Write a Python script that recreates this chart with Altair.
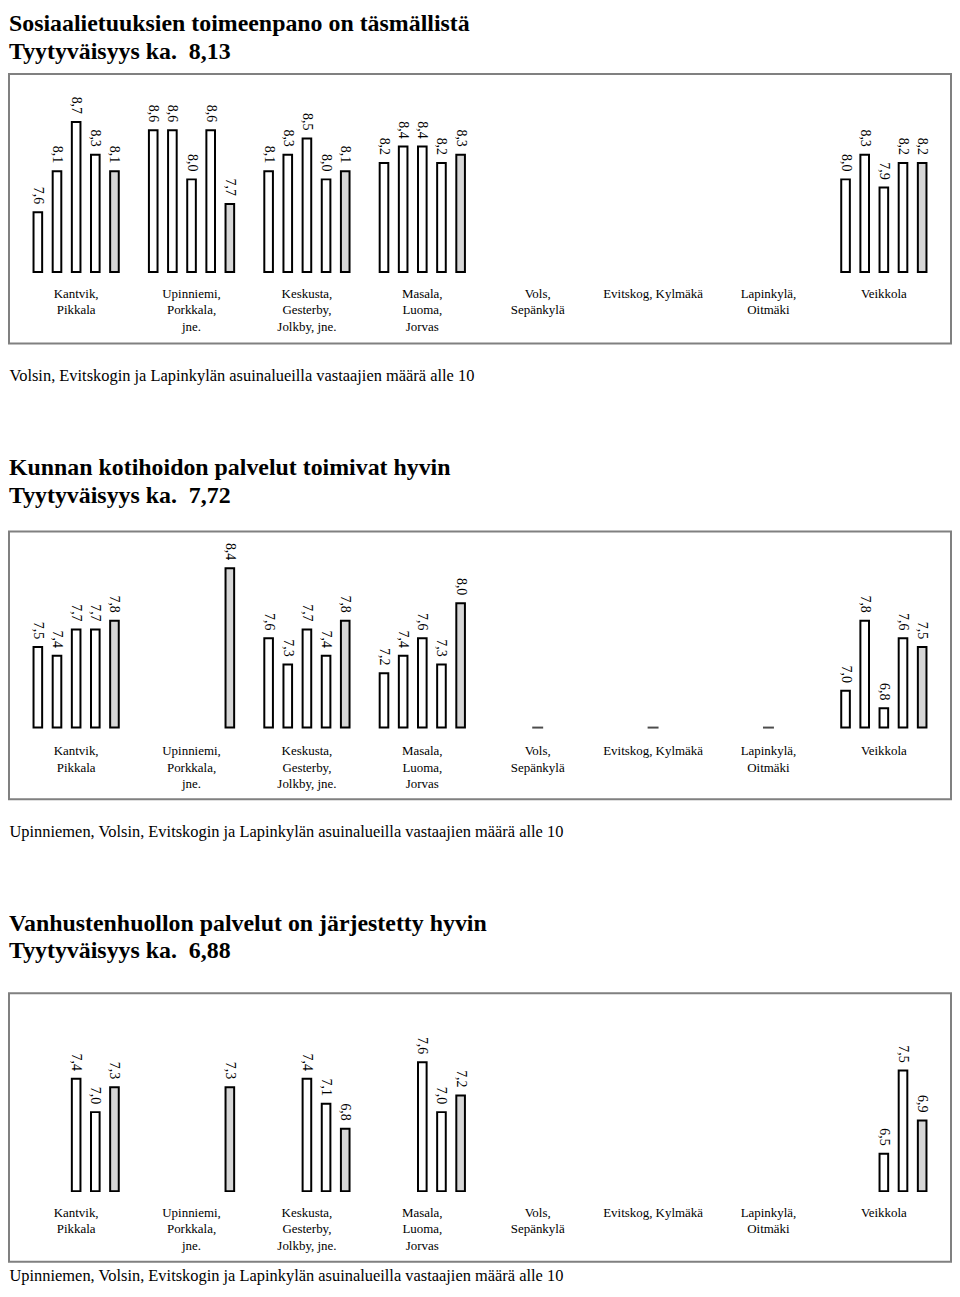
import altair as alt
import pandas as pd

categories = [
    "Kantvik,\nPikkala",
    "Upinniemi,\nPorkkala,\njne.",
    "Keskusta,\nGesterby,\nJolkby, jne.",
    "Masala,\nLuoma,\nJorvas",
    "Vols,\nSepänkylä",
    "Evitskog, Kylmäkä",
    "Lapinkylä,\nOitmäki",
    "Veikkola",
]
series = [1, 2, 3, 4, 5]

# --- panel 1 ---
p1_title = ["Sosiaalietuuksien toimeenpano on täsmällistä", "Tyytyväisyys ka.\u00a0 8,13"]
p1_note = "Volsin, Evitskogin ja Lapinkylän asuinalueilla vastaajien määrä alle 10"
p1_values = [
    [7.6, 8.1, 8.7, 8.3, 8.1],
    [8.6, 8.6, 8.0, 8.6, 7.7],
    [8.1, 8.3, 8.5, 8.0, 8.1],
    [8.2, 8.4, 8.4, 8.2, 8.3],
    [None, None, None, None, None],
    [None, None, None, None, None],
    [None, None, None, None, None],
    [8.0, 8.3, 7.9, 8.2, 8.2],
]
p1_dash = []

# --- panel 2 ---
p2_title = ["Kunnan kotihoidon palvelut toimivat hyvin", "Tyytyväisyys ka.\u00a0 7,72"]
p2_note = "Upinniemen, Volsin, Evitskogin ja Lapinkylän asuinalueilla vastaajien määrä alle 10"
p2_values = [
    [7.5, 7.4, 7.7, 7.7, 7.8],
    [None, None, None, None, 8.4],
    [7.6, 7.3, 7.7, 7.4, 7.8],
    [7.2, 7.4, 7.6, 7.3, 8.0],
    [None, None, None, None, None],
    [None, None, None, None, None],
    [None, None, None, None, None],
    [7.0, 7.8, 6.8, 7.6, 7.5],
]
p2_dash = ["Vols,\nSepänkylä", "Evitskog, Kylmäkä", "Lapinkylä,\nOitmäki"]

# --- panel 3 ---
p3_title = ["Vanhustenhuollon palvelut on järjestetty hyvin", "Tyytyväisyys ka.\u00a0 6,88"]
p3_note = "Upinniemen, Volsin, Evitskogin ja Lapinkylän asuinalueilla vastaajien määrä alle 10"
p3_values = [
    [None, None, 7.4, 7.0, 7.3],
    [None, None, None, None, 7.3],
    [None, None, 7.4, 7.1, 6.8],
    [None, None, 7.6, 7.0, 7.2],
    [None, None, None, None, None],
    [None, None, None, None, None],
    [None, None, None, None, None],
    [None, None, 6.5, 7.5, 6.9],
]
p3_dash = []

SERIF = "Liberation Serif"
W = 947
CAT_LABEL_TOP = 215


def panel(values, dashes, title_lines, note, base, ppu, base_off, H, title_offset, note_pad):
    rows = []
    for cat, vals in zip(categories, values):
        for s, v in zip(series, vals):
            if v is not None:
                rows.append({"cat": cat, "series": s, "value": v})
    df = pd.DataFrame(rows)

    yscale = alt.Scale(domain=[base - (H - base_off) / ppu, base + base_off / ppu], zero=False, nice=False)
    x = alt.X(
        "cat:N",
        scale=alt.Scale(domain=categories, paddingInner=0.17, paddingOuter=0.167),
        axis=alt.Axis(
            labels=False, ticks=False, domain=False, grid=False, title=note,
            titleFont=SERIF, titleFontSize=16.5, titleFontWeight="normal",
            titleColor="black", titleAnchor="start", titlePadding=note_pad,
        ),
    )
    xo = alt.XOffset("series:O", scale=alt.Scale(domain=series, paddingInner=0.55, paddingOuter=0.275))

    bars = alt.Chart(df).mark_bar(stroke="black", strokeWidth=2).encode(
        x=x,
        xOffset=xo,
        y=alt.Y("value:Q", scale=yscale, axis=None),
        y2=alt.datum(base),
        fill=alt.condition("datum.series == 5", alt.value("#d6d6d6"), alt.value("white")),
    )
    labels = alt.Chart(df).transform_calculate(
        lab="replace(format(datum.value, '.1f'), '.', ',')"
    ).mark_text(
        angle=90, align="right", baseline="middle", dx=-8,
        font=SERIF, fontSize=14, color="black",
    ).encode(
        x=x, xOffset=xo, y=alt.Y("value:Q", scale=yscale, axis=None), text="lab:N"
    )
    cats = alt.Chart(pd.DataFrame({"cat": categories})).mark_text(
        baseline="top", align="center", lineBreak="\n", lineHeight=16.5,
        font=SERIF, fontSize=13, color="black",
    ).encode(x=x, y=alt.value(CAT_LABEL_TOP), text="cat:N")

    layers = [bars, labels, cats]
    if dashes:
        ddf = pd.DataFrame({"cat": dashes, "series": [3] * len(dashes)})
        dash = alt.Chart(ddf).mark_tick(color="black", thickness=2, size=11).encode(
            x=x, xOffset=xo, y=alt.datum(base, scale=yscale)
        )
        layers.append(dash)

    return alt.layer(*layers).properties(
        width=W,
        height=H,
        title=alt.TitleParams(
            text=title_lines, anchor="start", font=SERIF, fontSize=24, fontWeight="bold",
            color="black", lineHeight=28, offset=title_offset,
        ),
    )


c1 = panel(p1_values, p1_dash, p1_title, p1_note, base=6.87, ppu=82.4, base_off=199, H=271, title_offset=10, note_pad=24)
c2 = panel(p2_values, p2_dash, p2_title, p2_note, base=6.58, ppu=88.0, base_off=197, H=269, title_offset=24, note_pad=24)
c3 = panel(p3_values, p3_dash, p3_title, p3_note, base=6.05, ppu=83.6, base_off=199, H=270, title_offset=30, note_pad=6)

chart = alt.vconcat(c1, c2, c3, spacing=70).properties(padding=0).configure_view(
    stroke="#808080", strokeWidth=2
)

chart.save("out.html", embed_options={"renderer": "svg", "actions": False})
